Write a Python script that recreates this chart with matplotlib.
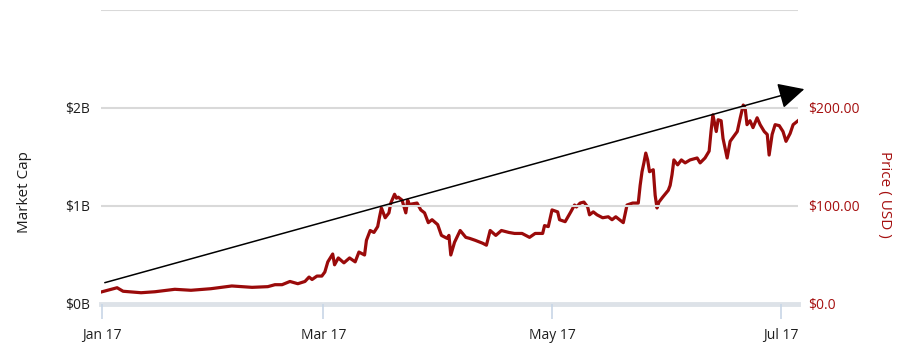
import matplotlib
matplotlib.use("Agg")
import matplotlib.pyplot as plt
import matplotlib.dates as mdates
from matplotlib.patches import FancyArrowPatch
import pandas as pd

plt.rcParams['font.family'] = ['Open Sans', 'DejaVu Sans']

# ---- data (days since 2017-01-01, price in USD) ----
day_offsets = [0, 4, 5.6, 10.4, 14.1, 19.4, 23.7, 29, 34.6, 40, 44.2, 46.1, 48, 50.1,
               52.2, 54.1, 55.2, 56, 57.3, 58.6, 59.4, 60.2,
               61.5, 62, 63, 64.5, 66, 67.5, 68.5, 70, 70.5, 71.5, 72.5,
               73.5, 74, 74.5, 75.5, 76.5, 77, 78, 78.5, 79, 80, 81, 81.5, 82, 82.5, 84,
               85, 86, 87, 88, 89.5, 90.5, 92, 92.5, 93, 94, 94.5, 95.5, 97, 98, 99.5,
               101.5, 102.5, 103.5, 105, 106.5, 108.5, 110, 112, 114, 115.5, 117.5, 118,
               119, 120, 121.5, 122, 123.5, 125, 126, 126.5, 127.5, 128.5, 129.5, 130,
               131, 132, 133.5, 135, 136, 137, 139, 140, 141.5, 143, 143.5, 144, 144.5,
               145, 145.5, 146, 147, 147.5, 148, 148.5, 149.5, 151, 151.5, 152, 152.5,
               153.5, 154.5, 155.5, 156.8, 158.7, 159.5, 160.8, 161.9, 162.4, 162.9,
               163.8, 164.3, 165.1, 165.6, 166.7, 167.5, 169.4, 170.2, 171.0, 171.5,
               172.0, 172.8, 173.6, 174.7, 175.5, 176.6, 177.4, 177.9, 178.7, 179.5,
               180.6, 181.6, 182.4, 183.5, 184.3, 185.6]
prices = [12.5, 16.6, 13, 11.5, 12.5, 15, 14, 15.6, 18.4, 17, 17.7, 19.7, 19.7, 23,
          20.7, 23, 27.5, 25, 28.5, 28.5, 32.6, 43,
          51, 40, 47, 42, 47, 43, 53, 50, 65, 75, 73,
          79, 89, 98, 88, 93, 103, 112, 108, 109, 106, 93, 106, 101, 102, 103,
          96, 93, 83, 86, 81, 70, 67, 70, 50, 63, 67, 75, 68, 67, 65,
          62, 60, 75, 70, 75, 73, 72, 72, 68, 72, 72, 80,
          79, 96, 94, 86, 84, 94, 101, 99, 103, 104, 99, 91,
          94, 91, 88, 89, 86, 89, 83, 101, 103, 103, 121, 135, 144,
          154, 147, 135, 137, 111, 98, 104, 109, 116, 121, 132, 147,
          142, 147, 144, 147, 149, 144, 149, 156, 176, 193,
          176, 188, 187, 169, 149, 166, 176, 190, 203, 200,
          183, 187, 180, 190, 183, 176, 173, 152, 173, 183,
          182, 176, 166, 174, 183, 187]

left_ticks = [0, 1, 2, 3]
left_labels = ['$0B', '$1B', '$2B', '']
right_ticks = [0, 100, 200]
right_labels = ['$0.0', '$100.00', '$200.00']
x_tick_dates = ['2017-01-01', '2017-03-01', '2017-05-01', '2017-07-01']
x_tick_labels = ['Jan 17', 'Mar 17', 'May 17', 'Jul 17']

# trend arrow (start / end in date, $B)
arrow_start = ('2017-01-01', 0.21)
arrow_end = ('2017-07-08', 2.2)

start = pd.Timestamp('2017-01-01')
dates = [start + pd.Timedelta(days=d) for d in day_offsets]

RED_LINE = '#9a0a0a'
RED_TEXT = '#a50f0f'
GRID = '#d9d9d9'
TXT = '#1e1e1e'

fig = plt.figure(figsize=(9.12, 3.64), dpi=100)
ax = fig.add_axes([101/912, 1-304/364, (798-101)/912, (304-10)/364])
ax2 = ax.twinx()

ax.set_ylim(0, 3)
ax2.set_ylim(0, 300)
xmin = start - pd.Timedelta(hours=7)
xmax = start + pd.Timedelta(days=185.6)
ax.set_xlim(xmin, xmax)

# gridlines
for v in [1, 2, 3]:
    ax.axhline(v, color=GRID, lw=1.5, zorder=0)
ax.axhline(0, color='#dde2e8', lw=3.5, zorder=1, clip_on=False)

ax2.plot(dates, prices, color=RED_LINE, lw=2.3, solid_joinstyle='round', zorder=3)

for sp in list(ax.spines.values()) + list(ax2.spines.values()):
    sp.set_visible(False)

ax.set_yticks(left_ticks)
ax.set_yticklabels(left_labels, fontsize=10, color=TXT)
ax.tick_params(axis='y', length=0, pad=8)
ax2.set_yticks(right_ticks)
ax2.set_yticklabels(right_labels, fontsize=10, color=RED_TEXT)
ax2.tick_params(axis='y', length=0, pad=7)

ax.set_xticks([pd.Timestamp(d) for d in x_tick_dates])
ax.set_xticklabels(x_tick_labels, fontsize=10, color=TXT)
ax.tick_params(axis='x', length=11, width=1.2, color='#c8d6e6', pad=6)

fig.text(25/912, 1-192/364, 'Market Cap', fontsize=11, color=TXT, rotation=90,
         ha='center', va='center')
fig.text(885/912, 1-194/364, 'Price ( USD )', fontsize=11, color=RED_TEXT, rotation=270,
         ha='center', va='center')

arr = FancyArrowPatch((mdates.date2num(pd.Timestamp(arrow_start[0])), arrow_start[1]),
                      (mdates.date2num(pd.Timestamp(arrow_end[0])), arrow_end[1]),
                      arrowstyle='-|>,head_length=1.6,head_width=0.8', mutation_scale=10,
                      color='black', lw=1.1, clip_on=False, zorder=5)
ax.add_patch(arr)
ax.set_zorder(ax2.get_zorder() + 1)
ax.patch.set_visible(False)

fig.savefig('out.png', dpi=100)
